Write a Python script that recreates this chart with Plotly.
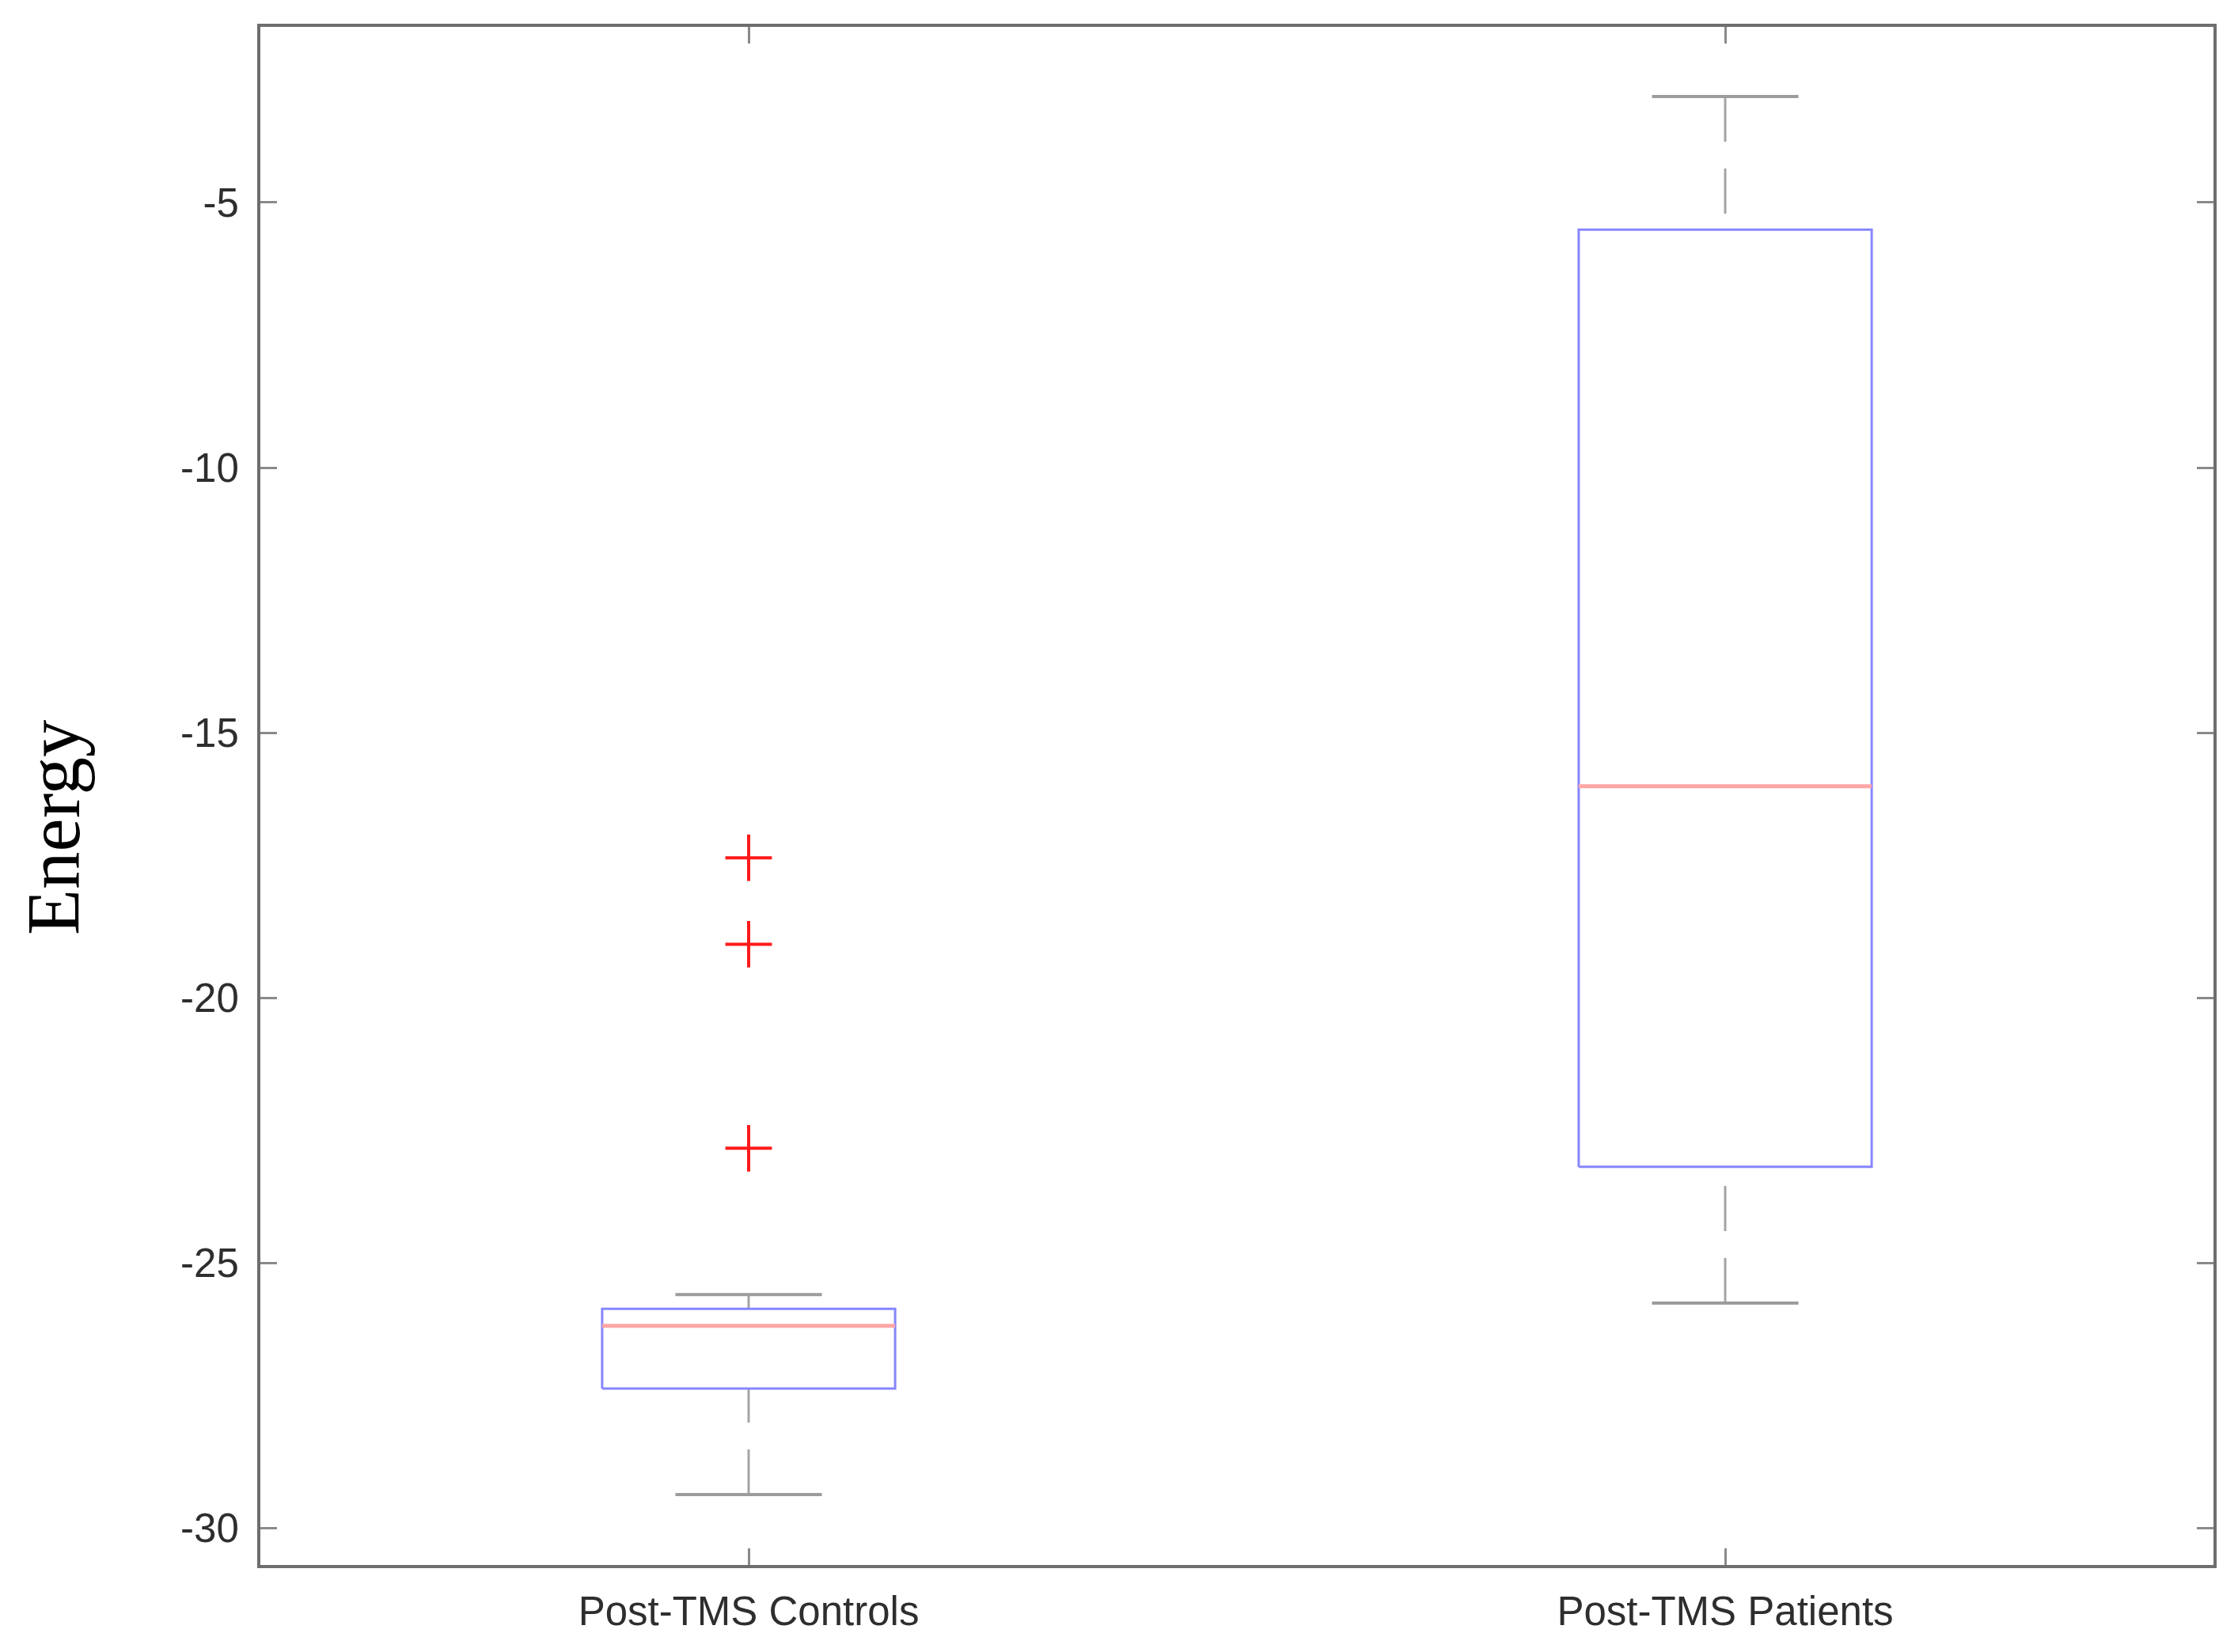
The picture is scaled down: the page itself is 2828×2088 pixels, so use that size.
import plotly.graph_objects as go

# ---- data ----
categories = ["Post-TMS Controls", "Post-TMS Patients"]
positions = [1, 2]
q1 = [-27.37, -23.19]
median = [-26.19, -16.01]
q3 = [-25.87, -5.51]
lower_whisker = [-29.37, -25.76]
upper_whisker = [-25.60, -3.00]
outliers_controls = [-17.36, -18.99, -22.84]
outliers_patients = []
y_ticks = [-30, -25, -20, -15, -10, -5]

# ---- style ----
BOX_HALF = 0.15
CAP_HALF = 0.075
BOX_COLOR = "#8686ff"
MED_COLOR = "#ffa6a6"
WHISK_COLOR = "#a4a4a4"
FRAME_COLOR = "#6e6e6e"

fig = go.Figure()
outliers = [outliers_controls, outliers_patients]

for i, c in enumerate(positions):
    # whiskers (dashed), drawn from cap toward box
    fig.add_trace(go.Scatter(x=[c, c], y=[upper_whisker[i], q3[i]], mode="lines",
                             line=dict(color=WHISK_COLOR, width=3, dash="57px,34px"),
                             showlegend=False, hoverinfo="skip"))
    fig.add_trace(go.Scatter(x=[c, c], y=[lower_whisker[i], q1[i]], mode="lines",
                             line=dict(color=WHISK_COLOR, width=3, dash="57px,34px"),
                             showlegend=False, hoverinfo="skip"))
    # caps
    for v in (upper_whisker[i], lower_whisker[i]):
        fig.add_trace(go.Scatter(x=[c - CAP_HALF, c + CAP_HALF], y=[v, v], mode="lines",
                                 line=dict(color="#9c9c9c", width=4),
                                 showlegend=False, hoverinfo="skip"))
    # box
    fig.add_trace(go.Scatter(x=[c - BOX_HALF, c + BOX_HALF, c + BOX_HALF, c - BOX_HALF, c - BOX_HALF],
                             y=[q1[i], q1[i], q3[i], q3[i], q1[i]], mode="lines",
                             line=dict(color=BOX_COLOR, width=3),
                             showlegend=False, hoverinfo="skip"))
    # median
    fig.add_trace(go.Scatter(x=[c - BOX_HALF, c + BOX_HALF], y=[median[i], median[i]], mode="lines",
                             line=dict(color=MED_COLOR, width=5),
                             showlegend=False, hoverinfo="skip"))
    # outliers
    if outliers[i]:
        fig.add_trace(go.Scatter(x=[c] * len(outliers[i]), y=outliers[i], mode="markers",
                                 marker=dict(symbol="cross-thin", size=42,
                                             line=dict(color="#ff1a1a", width=4)),
                                 showlegend=False, hoverinfo="skip"))

# page body has an 8px default margin, so the figure is drawn 8px in and 8px down
W, H = 2820, 2080
L, R, T, B = 321, 31, 26, 110

fig.update_layout(
    width=W, height=H,
    margin=dict(l=L, r=R, t=T, b=B),
    paper_bgcolor="white", plot_bgcolor="white",
    showlegend=False,
    xaxis=dict(range=[0.5, 2.5], tickmode="array", tickvals=positions, ticktext=categories,
               showgrid=False, zeroline=False, showline=True, linecolor=FRAME_COLOR, linewidth=4,
               mirror="ticks", ticks="inside", ticklen=21, tickwidth=3, tickcolor="#8a8a8a",
               ticklabelstandoff=11,
               tickfont=dict(family="Liberation Sans, Arial, sans-serif", size=51, color="#2e2e2e")),
    yaxis=dict(range=[-30.70, -1.687], tickmode="array", tickvals=y_ticks,
               ticktext=[str(t) for t in y_ticks],
               showgrid=False, zeroline=False, showline=True, linecolor=FRAME_COLOR, linewidth=4,
               mirror="ticks", ticks="inside", ticklen=21, tickwidth=3, tickcolor="#8a8a8a",
               ticklabelstandoff=13,
               tickfont=dict(family="Liberation Sans, Arial, sans-serif", size=51, color="#2e2e2e")),
    annotations=[dict(text="Energy", textangle=-90, xref="paper", yref="paper",
                      x=(60 - L) / (W - L - R), y=(H - B - 1038) / (H - T - B),
                      xanchor="center", yanchor="middle", showarrow=False,
                      font=dict(family="Liberation Serif, Times New Roman, serif", size=95, color="black"))],
)

fig.write_html("out.html")
